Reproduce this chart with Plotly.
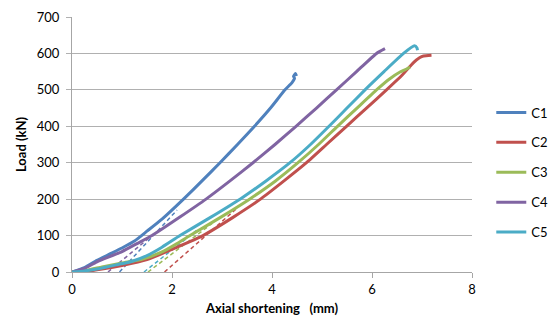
import plotly.graph_objects as go

# ---- data ----
names = ["C1", "C2", "C3", "C4", "C5"]
colors = ["#4F81BD", "#C0504D", "#9BBB59", "#8064A2", "#4BACC6"]

c1_x = [0, 0.25, 0.5, 0.75, 1.0, 1.25, 1.5, 1.8, 2.23, 2.6, 2.96, 3.31, 3.65, 3.97, 4.26, 4.4, 4.45, 4.43, 4.47, 4.49]
c1_y = [0, 12, 32, 49, 66, 85, 112, 145, 200, 250, 300, 350, 400, 450, 500, 520, 532, 537, 545, 538]

c2_x = [0, 0.3, 0.6, 1.0, 1.5, 2.0, 2.3, 2.62, 3.22, 3.77, 4.24, 4.69, 5.09, 5.49, 5.89, 6.29, 6.6, 6.83, 6.95, 7.03, 7.19]
c2_y = [0, 2, 8, 18, 34, 62, 80, 100, 150, 200, 250, 300, 350, 400, 450, 500, 540, 575, 588, 593, 595]

c3_x = [0, 0.3, 0.6, 1.0, 1.4, 1.8, 2.1, 2.36, 2.97, 3.55, 4.07, 4.52, 4.93, 5.31, 5.7, 6.09, 6.35, 6.56, 6.7, 6.76]
c3_y = [0, 5, 14, 25, 35, 55, 78, 100, 150, 200, 250, 300, 350, 400, 450, 500, 530, 549, 558, 563]

c4_x = [0, 0.25, 0.5, 1.0, 1.3, 1.6, 2.15, 2.68, 3.16, 3.62, 4.06, 4.48, 4.89, 5.29, 5.69, 6.09, 6.26]
c4_y = [0, 10, 28, 56, 78, 100, 150, 200, 250, 300, 350, 400, 450, 500, 550, 600, 613]

c5_x = [0, 0.25, 0.53, 0.9, 1.19, 1.5, 1.8, 2.16, 2.77, 3.36, 3.88, 4.36, 4.77, 5.14, 5.5, 5.86, 6.24, 6.63, 6.85, 6.9, 6.91]
c5_y = [0, 3, 9, 20, 29, 45, 68, 100, 150, 200, 250, 300, 350, 400, 450, 500, 550, 600, 621, 615, 609]

# dashed extrapolation lines (start on x-axis, end where they merge with the curve)
d1_x = [0.95, 2.1]
d1_y = [0, 170]
d2_x = [1.85, 3.3]
d2_y = [0, 175]
d3_x = [1.52, 2.8]
d3_y = [0, 133]
d4_x = [0.72, 1.6]
d4_y = [0, 100]
d5_x = [1.44, 2.5]
d5_y = [0, 115]

xs = [c1_x, c2_x, c3_x, c4_x, c5_x]
ys = [c1_y, c2_y, c3_y, c4_y, c5_y]
dxs = [d1_x, d2_x, d3_x, d4_x, d5_x]
dys = [d1_y, d2_y, d3_y, d4_y, d5_y]

x_ticks = [0, 2, 4, 6, 8]
y_ticks = [0, 100, 200, 300, 400, 500, 600, 700]

fig = go.Figure()
for i in range(5):
    fig.add_trace(go.Scatter(x=dxs[i], y=dys[i], mode="lines",
                             line=dict(color=colors[i], width=1.5, dash="4px,3px"),
                             showlegend=False, hoverinfo="skip"))
for i in range(5):
    fig.add_trace(go.Scatter(x=xs[i], y=ys[i], mode="lines", name=names[i],
                             legendgroup=names[i],
                             line=dict(color=colors[i], width=3,
                                       shape="spline", smoothing=0.5)))

font_family = "Lato, 'Open Sans', sans-serif"
fig.update_layout(
    width=552, height=327,
    margin=dict(l=72, r=80, t=17, b=55, autoexpand=False),
    paper_bgcolor="white", plot_bgcolor="white",
    font=dict(family=font_family, size=13, color="#000000"),
    legend=dict(xref="container", yref="container",
                x=0.89, xanchor="left", y=0.4725, yanchor="middle",
                tracegroupgap=10, font=dict(size=13),
                bgcolor="rgba(0,0,0,0)"),
    xaxis=dict(range=[0, 8], tickvals=x_ticks, showgrid=False,
               showline=True, linecolor="#a6a6a6", linewidth=1,
               ticks="outside", ticklen=5, tickcolor="#a6a6a6",
               zeroline=False,
               title=dict(text="<b>Axial shortening\u00a0\u00a0 (mm)</b>",
                          font=dict(size=13), standoff=8)),
    yaxis=dict(range=[0, 700], tickvals=y_ticks, showgrid=True,
               gridcolor="#b0b0b0", gridwidth=1,
               showline=True, linecolor="#a6a6a6", linewidth=1,
               ticks="outside", ticklen=5, tickcolor="#b0b0b0",
               ticklabelstandoff=4,
               zeroline=False,
               title=dict(text="<b>Load (kN)</b>", font=dict(size=13), standoff=7)),
)
fig.write_html("out.html")
